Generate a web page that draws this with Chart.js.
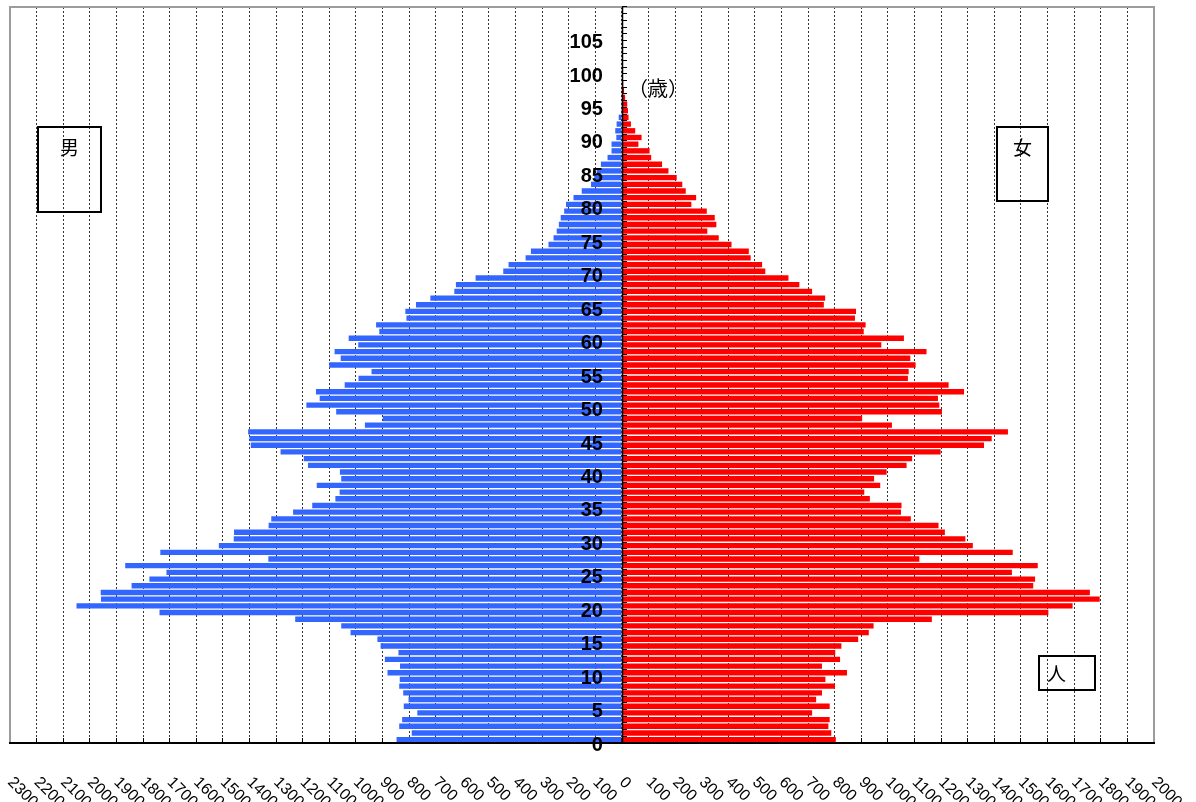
<!DOCTYPE html>
<html lang="ja">
<head>
<meta charset="UTF-8">
<title>人口ピラミッド</title>
<script src="https://cdn.jsdelivr.net/npm/chart.js@4"></script>
<style>
  body { margin: 0; background: #fff; }
  .wrap { position: relative; width: 1196px; height: 802px; }
  .tag {
    position: absolute;
    box-sizing: border-box;
    border: 2px solid #000;
    font-family: "Noto Sans CJK JP", sans-serif;
    font-size: 19px;
    line-height: 20px;
    text-align: center;
    color: #000;
  }
  .unit {
    position: absolute;
    font-family: "Noto Sans CJK JP", sans-serif;
    font-size: 20px;
    line-height: 20px;
    color: #000;
  }
</style>
</head>
<body>
<div class="wrap">
  <canvas id="pyramid" width="1196" height="802"></canvas>
  <div class="tag" style="left:37px; top:126px; width:65px; height:87px; padding-top:9px;">男</div>
  <div class="tag" style="left:996px; top:126px; width:53px; height:76px; padding-top:9px;">女</div>
  <div class="tag" style="left:1038px; top:655px; width:58px; height:36px; padding-top:6px; text-align:left; padding-left:7px;">人</div>
  <div class="unit" style="left:628px; top:78px;">（歳）</div>
</div>

<script>
// age categories (years)
const ages = [
  0, 1, 2, 3, 4, 5, 6, 7, 8, 9,
  10, 11, 12, 13, 14, 15, 16, 17, 18, 19,
  20, 21, 22, 23, 24, 25, 26, 27, 28, 29,
  30, 31, 32, 33, 34, 35, 36, 37, 38, 39,
  40, 41, 42, 43, 44, 45, 46, 47, 48, 49,
  50, 51, 52, 53, 54, 55, 56, 57, 58, 59,
  60, 61, 62, 63, 64, 65, 66, 67, 68, 69,
  70, 71, 72, 73, 74, 75, 76, 77, 78, 79,
  80, 81, 82, 83, 84, 85, 86, 87, 88, 89,
  90, 91, 92, 93, 94, 95, 96, 97, 98, 99,
  100, 101, 102, 103, 104, 105, 106, 107, 108, 109
];

// 男 (persons), age 0 first
const male = [
  847, 790, 837, 826, 769, 820, 802, 822, 837, 835,
  881, 834, 891, 840, 907, 919, 1020, 1055, 1228, 1738,
  2050, 1958, 1959, 1843, 1776, 1712, 1867, 1329, 1735, 1515,
  1459, 1458, 1328, 1318, 1236, 1164, 1077, 1061, 1147, 1055,
  1060, 1180, 1196, 1283, 1395, 1400, 1405, 966, 899, 1074,
  1186, 1136, 1150, 1042, 990, 941, 1100, 1057, 1080, 991,
  1027, 912, 924, 810, 814, 774, 720, 630, 624, 550,
  446, 426, 362, 342, 276, 257, 245, 237, 230, 217,
  210, 182, 151, 116, 104, 95, 79, 54, 39, 39,
  21, 25, 20, 12, 3, 1, 0, 0, 0, 0,
  0, 0, 0, 0, 0, 0, 0, 0, 0, 0
];

// 女 (persons), age 0 first
const female = [
  804, 787, 776, 781, 715, 781, 730, 752, 801, 765,
  846, 752, 820, 802, 825, 888, 928, 946, 1165, 1603,
  1694, 1796, 1759, 1546, 1553, 1466, 1563, 1118, 1469, 1319,
  1291, 1214, 1190, 1086, 1049, 1051, 932, 911, 971, 948,
  995, 1070, 1091, 1198, 1361, 1390, 1451, 1015, 903, 1203,
  1193, 1188, 1286, 1228, 1075, 1078, 1104, 1084, 1145, 975,
  1060, 909, 916, 876, 880, 759, 764, 715, 667, 626,
  539, 527, 484, 477, 412, 364, 321, 355, 349, 319,
  261, 279, 240, 227, 206, 175, 151, 110, 104, 62,
  74, 50, 34, 25, 23, 20, 12, 8, 5, 4,
  3, 0, 0, 0, 0, 0, 0, 0, 0, 0
];

// ages that get a label on the centre axis
const labeledAges = [0, 5, 10, 15, 20, 25, 30, 35, 40, 45, 50, 55, 60, 65, 70, 75, 80, 85, 90, 95, 100, 105];

// x axis: labels written below each tick, slanting down to the right
class SlantScale extends Chart.LinearScale {
    _getXAxisLabelAlignment() {
        return 'left';
    }
}
SlantScale.id = 'slant';
SlantScale.defaults = Chart.LinearScale.defaults;

// age axis sits at x = 0; nudge its labels left of the line
class MidCategoryScale extends Chart.CategoryScale {
    _computeLabelItems(area) {
        const items = super._computeLabelItems(area);
        items.forEach(item => { item.options.translation[0] -= 19; });
        return items;
    }
}
MidCategoryScale.id = 'midcategory';
MidCategoryScale.defaults = Chart.CategoryScale.defaults;

Chart.register(SlantScale, MidCategoryScale);

// grey frame round the plot area (top, left, right) and the black zero line
const plotFrame = {
    id: 'plotFrame',
    beforeDatasetsDraw(chart) {
        const { ctx, chartArea: a } = chart;
        ctx.save();
        ctx.strokeStyle = '#9c9c9c';
        ctx.lineWidth = 2;
        ctx.beginPath();
        ctx.moveTo(a.left, a.bottom);
        ctx.lineTo(a.left, a.top);
        ctx.lineTo(a.right, a.top);
        ctx.lineTo(a.right, a.bottom);
        ctx.stroke();
        ctx.restore();
    },
    afterDatasetsDraw(chart) {
        const { ctx, chartArea: a } = chart;
        const x0 = Math.round(chart.scales.x.getPixelForValue(0)) + 0.5;
        ctx.save();
        ctx.strokeStyle = '#000';
        ctx.lineWidth = 1.5;
        ctx.beginPath();
        ctx.moveTo(x0, a.top);
        ctx.lineTo(x0, a.bottom);
        ctx.stroke();
        ctx.restore();
    },
    afterDraw(chart) {
        // keep the margin above the frame clean
        const { ctx, chartArea: a } = chart;
        ctx.save();
        ctx.fillStyle = '#fff';
        ctx.fillRect(0, 0, chart.width, a.top - 1);
        ctx.restore();
    }
};

const ctx = document.getElementById('pyramid').getContext('2d');

new Chart(ctx, {
    type: 'bar',
    data: {
        labels: ages,
        datasets: [
            {
                label: '男',
                data: male.map(v => -v),
                backgroundColor: '#3366ff',
                borderWidth: 0,
                inflateAmount: 0,
                barPercentage: 0.8,
                categoryPercentage: 1.0
            },
            {
                label: '女',
                data: female,
                backgroundColor: '#ff0000',
                borderWidth: 0,
                inflateAmount: 0,
                barPercentage: 0.8,
                categoryPercentage: 1.0
            }
        ]
    },
    options: {
        indexAxis: 'y',
        responsive: false,
        animation: false,
        devicePixelRatio: 1,
        layout: { padding: { left: 10, right: 42, top: 7, bottom: 0 } },
        plugins: {
            legend: { display: false },
            tooltip: { enabled: false }
        },
        scales: {
            x: {
                type: 'slant',
                position: 'bottom',
                stacked: true,
                min: -2300,
                max: 2000,
                grid: {
                    color: c => (c.tick && (c.tick.value === -2300 || c.tick.value === 2000)) ? 'rgba(0,0,0,0)' : '#333',
                    lineWidth: 1,
                    tickLength: -5,
                    tickColor: '#000',
                    tickWidth: 1,
                    tickBorderDash: []
                },
                border: { display: true, color: '#000', width: 2, dash: [2, 2], z: 1 },
                ticks: {
                    stepSize: 100,
                    autoSkip: false,
                    minRotation: -45,
                    maxRotation: -45,
                    padding: 35,
                    color: '#000',
                    font: { family: '"Liberation Sans", Arial, sans-serif', size: 16 },
                    callback: v => String(Math.abs(v))
                },
                afterFit: scale => {
                    scale.height = 59;
                    scale.paddingLeft = 0;
                    scale.paddingRight = 0;
                }
            },
            y: {
                type: 'midcategory',
                position: { x: 0 },
                stacked: true,
                reverse: true,
                offset: true,
                grid: {
                    offset: true,
                    drawOnChartArea: false,
                    drawTicks: true,
                    tickLength: -5,
                    tickColor: '#000',
                    tickWidth: 1,
                    z: 1
                },
                border: { display: false },
                ticks: {
                    autoSkip: false,
                    padding: 0,
                    labelOffset: 5.5,
                    z: 1,
                    color: '#000',
                    font: { family: '"Liberation Sans", Arial, sans-serif', size: 20, weight: 'bold' },
                    callback: (v, i) => labeledAges.includes(ages[i]) ? String(ages[i]) : ''
                },
                afterFit: scale => {
                    scale.paddingTop = 0;
                    scale.paddingBottom = 0;
                    scale.paddingLeft = 0;
                    scale.paddingRight = 0;
                }
            }
        }
    },
    plugins: [plotFrame]
});
</script>
</body>
</html>
